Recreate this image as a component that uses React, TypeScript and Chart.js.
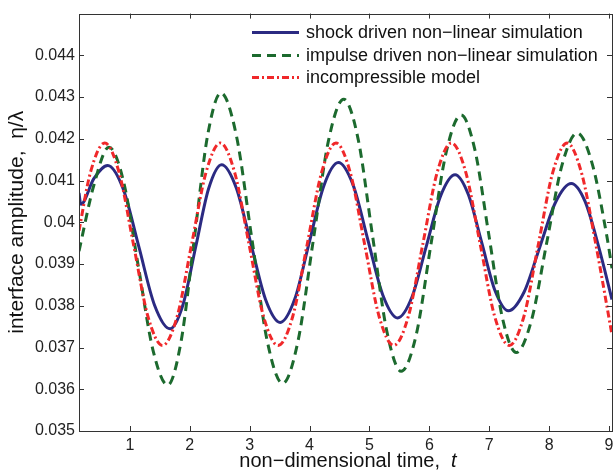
import React, { useEffect, useRef } from "react";
import { Chart, registerables } from "chart.js";

Chart.register(...registerables);

// ---- data ----
const shockT = [0.15, 0.18, 0.40, 0.63, 0.89, 1.15, 1.41, 1.67, 1.885, 2.10, 2.315, 2.53, 2.775, 3.02, 3.265, 3.51, 3.7525, 3.995, 4.2375, 4.48, 4.7275, 4.975, 5.2225, 5.47, 5.71, 5.95, 6.19, 6.43, 6.6525, 6.875, 7.0975, 7.32, 7.5825, 7.845, 8.1075, 8.37, 8.60, 8.83, 9.05];
const shockV = [0.0407, 0.04043, 0.04105, 0.04136, 0.04079, 0.03941, 0.03802, 0.03745, 0.03802, 0.03942, 0.04081, 0.04138, 0.04083, 0.03949, 0.03815, 0.0376, 0.03816, 0.03952, 0.04087, 0.04143, 0.04089, 0.03957, 0.03826, 0.03771, 0.03821, 0.03943, 0.04064, 0.04114, 0.04066, 0.03951, 0.03836, 0.03788, 0.03833, 0.03941, 0.04048, 0.04093, 0.0405, 0.0394, 0.03815];

const impulseT = [0.15, 0.40, 0.65, 0.895, 1.14, 1.385, 1.63, 1.8525, 2.075, 2.2975, 2.52, 2.7775, 3.035, 3.2925, 3.55, 3.805, 4.06, 4.315, 4.57, 4.81, 5.05, 5.29, 5.53, 5.78, 6.03, 6.28, 6.53, 6.76, 6.99, 7.22, 7.45, 7.705, 7.96, 8.215, 8.47, 8.72, 8.96, 9.05];
const impulseV = [0.03931, 0.0409, 0.0418, 0.04097, 0.03895, 0.03694, 0.0361, 0.03713, 0.0396, 0.04208, 0.0431, 0.04208, 0.03962, 0.03716, 0.03614, 0.03714, 0.03955, 0.04195, 0.04295, 0.042, 0.03969, 0.03739, 0.03643, 0.0373, 0.0395, 0.04167, 0.04257, 0.04174, 0.03973, 0.03771, 0.03688, 0.03765, 0.03951, 0.04137, 0.04214, 0.0414, 0.0397, 0.0389];

const incompT = [0.15, 0.34, 0.58, 0.82, 1.06, 1.30, 1.545, 1.79, 2.03, 2.27, 2.51, 2.75, 2.99, 3.23, 3.475, 3.72, 3.96, 4.20, 4.44, 4.68, 4.92, 5.16, 5.405, 5.65, 5.89, 6.13, 6.37, 6.61, 6.85, 7.09, 7.335, 7.58, 7.82, 8.06, 8.30, 8.54, 8.78, 9.05];
const incompV = [0.0398, 0.04119, 0.0419, 0.04119, 0.03947, 0.03775, 0.03705, 0.03775, 0.03947, 0.04119, 0.0419, 0.04119, 0.03947, 0.03775, 0.03705, 0.03775, 0.03947, 0.04119, 0.0419, 0.04119, 0.03947, 0.03775, 0.03705, 0.03775, 0.03947, 0.04119, 0.0419, 0.04119, 0.03947, 0.03775, 0.03705, 0.03775, 0.03947, 0.04119, 0.0419, 0.04119, 0.03947, 0.0373];

const seriesLabels = [
  "shock driven non\u2212linear simulation",
  "impulse driven non\u2212linear simulation",
  "incompressible model",
];
const xTickValues = [1, 2, 3, 4, 5, 6, 7, 8, 9];
const xRange = [0.15, 9.05];
const yRange = [0.035, 0.045];
const yTitle = "interface amplitude,  \u03B7/\u03BB";
const xTitleMain = "non\u2212dimensional time,  ";
const xTitleItalic = "t";

const FONT = "'Liberation Sans', Arial, Helvetica, sans-serif";

const zip = (t: number[], v: number[]) => t.map((x, i) => ({ x, y: v[i] }));

const framePlugin = {
  id: "frame",
  beforeDraw(chart: any) {
    const { ctx } = chart;
    ctx.save();
    ctx.fillStyle = "#ffffff";
    ctx.fillRect(0, 0, chart.width, chart.height);
    ctx.restore();
  },
  afterDraw(chart: any) {
    const { ctx, chartArea: a, scales } = chart;
    const xs = scales.x;
    const ys = scales.y;
    ctx.save();
    ctx.strokeStyle = "#333333";
    ctx.lineWidth = 1;
    ctx.strokeRect(Math.round(a.left) + 0.5, Math.round(a.top) + 0.5, Math.round(a.right - a.left), Math.round(a.bottom - a.top));
    const L = 5;
    ctx.beginPath();
    xs.ticks.forEach((tk: any) => {
      const px = Math.round(xs.getPixelForValue(tk.value)) + 0.5;
      ctx.moveTo(px, a.bottom);
      ctx.lineTo(px, a.bottom - L);
      ctx.moveTo(px, a.top);
      ctx.lineTo(px, a.top + L);
    });
    ys.ticks.forEach((tk: any) => {
      const py = Math.round(ys.getPixelForValue(tk.value)) + 0.5;
      ctx.moveTo(a.left, py);
      ctx.lineTo(a.left + L, py);
      ctx.moveTo(a.right, py);
      ctx.lineTo(a.right - L, py);
    });
    ctx.stroke();

    // legend
    const rows = [32, 55, 77];
    chart.data.datasets.forEach((ds: any, i: number) => {
      const y = rows[i] + 0.5;
      ctx.save();
      ctx.strokeStyle = ds.borderColor;
      ctx.lineWidth = ds.borderWidth;
      ctx.setLineDash(ds.borderDash || []);
      ctx.beginPath();
      ctx.moveTo(252, y);
      ctx.lineTo(299, y);
      ctx.stroke();
      ctx.restore();
      ctx.fillStyle = "#111111";
      ctx.font = `18px ${FONT}`;
      ctx.textAlign = "left";
      ctx.textBaseline = "middle";
      ctx.fillText(ds.label, 306, rows[i] + 1);
    });

    // x title with italic t
    ctx.textBaseline = "middle";
    ctx.textAlign = "left";
    ctx.font = `20px ${FONT}`;
    const w1 = ctx.measureText(xTitleMain).width;
    ctx.font = `italic 20px ${FONT}`;
    const w2 = ctx.measureText(xTitleItalic).width;
    const cx = 348;
    const x0 = cx - (w1 + w2) / 2;
    ctx.fillStyle = "#111111";
    ctx.font = `20px ${FONT}`;
    ctx.fillText(xTitleMain, x0, 461);
    ctx.font = `italic 20px ${FONT}`;
    ctx.fillText(xTitleItalic, x0 + w1, 461);
    ctx.restore();
  },
};

export default function App() {
  const ref = useRef<HTMLCanvasElement>(null);
  useEffect(() => {
    document.body.style.margin = "0";
    document.body.style.overflow = "hidden";
    const canvas = ref.current!;
    const chart = new Chart(canvas, {
      type: "line",
      data: {
        datasets: [
          {
            label: seriesLabels[0],
            data: zip(shockT, shockV),
            borderColor: "#2b2a82",
            borderWidth: 3,
            pointRadius: 0,
            cubicInterpolationMode: "monotone",
            order: 2,
          },
          {
            label: seriesLabels[1],
            data: zip(impulseT, impulseV),
            borderColor: "#1c6a2e",
            borderWidth: 3,
            borderDash: [9, 6],
            pointRadius: 0,
            cubicInterpolationMode: "monotone",
            order: 1,
          },
          {
            label: seriesLabels[2],
            data: zip(incompT, incompV),
            borderColor: "#f0282a",
            borderWidth: 3,
            borderDash: [7, 3, 2, 3],
            pointRadius: 0,
            cubicInterpolationMode: "monotone",
            order: 0,
          },
        ],
      },
      options: {
        responsive: false,
        animation: false,
        devicePixelRatio: 1,
        layout: { padding: { top: 11, right: 28, bottom: 0, left: 0 } },
        plugins: { legend: { display: false }, tooltip: { enabled: false } },
        scales: {
          x: {
            type: "linear",
            min: xRange[0],
            max: xRange[1],
            afterFit: (s: any) => { s.height = 44; },
            afterBuildTicks: (s: any) => { s.ticks = xTickValues.map((v) => ({ value: v })); },
            grid: { display: false, drawTicks: false },
            border: { display: false },
            ticks: { color: "#222", font: { family: FONT, size: 16 }, padding: 5, maxRotation: 0, autoSkip: false },
          },
          y: {
            type: "linear",
            min: yRange[0],
            max: yRange[1],
            afterFit: (s: any) => { s.width = 79; },
            grid: { display: false, drawTicks: false },
            border: { display: false },
            ticks: {
              stepSize: 0.001,
              color: "#222",
              font: { family: FONT, size: 16 },
              padding: 4,
              callback: (v: any) => (Math.abs(v - 0.045) < 1e-9 ? "" : String(parseFloat(Number(v).toFixed(3)))),
            },
            title: {
              display: true,
              text: yTitle,
              color: "#111",
              font: { family: FONT, size: 21 },
              padding: { top: 5, bottom: 0 },
            },
          },
        },
      },
      plugins: [framePlugin],
    } as any);
    return () => chart.destroy();
  }, []);
  return (
    <div style={{ position: "fixed", left: 0, top: 0, width: 613, height: 475, overflow: "hidden", background: "#fff" }}>
      <canvas ref={ref} width={640} height={475} style={{ display: "block", width: 640, height: 475 }} />
    </div>
  );
}
